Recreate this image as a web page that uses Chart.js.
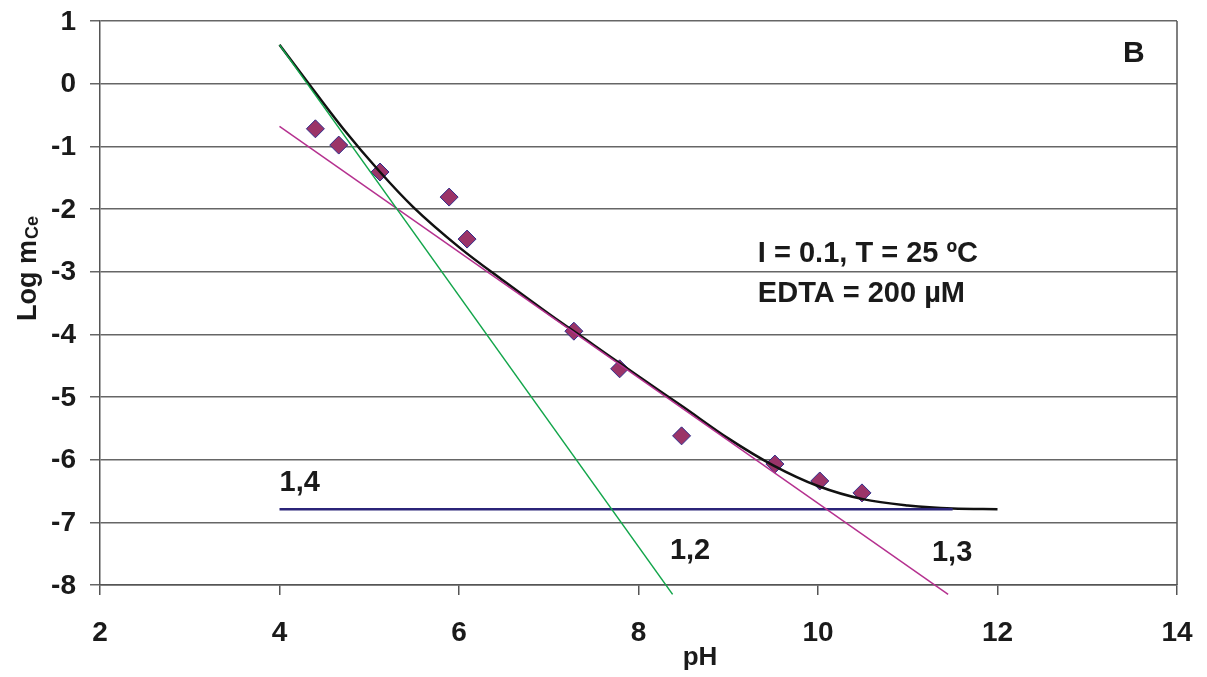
<!DOCTYPE html>
<html>
<head>
<meta charset="utf-8">
<script src="https://cdn.jsdelivr.net/npm/chart.js@4/dist/chart.umd.min.js"></script>
<style>
  html, body { margin: 0; padding: 0; background: #fff; }
  #wrap { width: 1207px; height: 677px; }
</style>
</head>
<body>
<div id="wrap"><canvas id="chart" width="1207" height="677"></canvas></div>
<script>
// measured points (pH, log m_Ce)
const measPH = [4.40, 4.66, 5.12, 5.89, 6.09, 7.28, 7.79, 8.48, 9.52, 10.02, 10.49];
const measLog = [-0.72, -0.98, -1.41, -1.81, -2.48, -3.95, -4.55, -5.62, -6.07, -6.34, -6.53];

// model curve
const fitPH = [4.0, 4.32, 4.71, 5.12, 5.49, 6.01, 6.5, 7.0, 7.5, 8.0, 8.5, 9.0, 9.5, 10.0, 10.5, 11.0, 11.5, 12.0];
const fitLog = [0.62, 0.01, -0.72, -1.41, -1.97, -2.62, -3.15, -3.67, -4.17, -4.67, -5.16, -5.66, -6.09, -6.42, -6.63, -6.73, -6.78, -6.79];

// asymptotes 1,2 / 1,3 / 1,4
const line12PH = [4.0, 8.38];
const line12Log = [0.62, -8.15];
const line13PH = [4.0, 11.45];
const line13Log = [-0.68, -8.15];
const line14PH = [4.0, 11.5];
const line14Log = [-6.79, -6.79];

const xTicks = [2, 4, 6, 8, 10, 12, 14];
const yTicks = [1, 0, -1, -2, -3, -4, -5, -6, -7, -8];

const labels = [
  { text: "1,4", x: 4.0, y: -6.50 },
  { text: "1,2", x: 8.35, y: -7.58 },
  { text: "1,3", x: 11.27, y: -7.62 },
  { text: "I = 0.1, T = 25 ºC", x: 9.33, y: -2.85 },
  { text: "EDTA = 200 µM", x: 9.33, y: -3.48 },
];

const pts = (xs, ys) => xs.map((x, i) => ({ x, y: ys[i] }));
const FONT = '"Liberation Sans", Arial, sans-serif';
const INK = "#1a1a1a";

const textPlugin = {
  id: "texts",
  afterDraw(chart) {
    const { ctx, chartArea, scales } = chart;
    const xs = scales.x, ys = scales.y;
    ctx.save();
    // right border
    ctx.strokeStyle = "#555";
    ctx.lineWidth = 1.5;
    ctx.beginPath();
    ctx.moveTo(chartArea.right, chartArea.top);
    ctx.lineTo(chartArea.right, chartArea.bottom);
    ctx.stroke();

    ctx.fillStyle = INK;

    // tick labels
    ctx.font = "bold 28px " + FONT;
    ctx.textBaseline = "middle";
    ctx.textAlign = "right";
    yTicks.forEach((v) => ctx.fillText(String(v), 76, ys.getPixelForValue(v) + 1));
    ctx.textAlign = "center";
    xTicks.forEach((v) => ctx.fillText(String(v), xs.getPixelForValue(v), 633));

    ctx.textBaseline = "alphabetic";
    ctx.font = "bold 29px " + FONT;
    ctx.textAlign = "left";
    labels.forEach((l) => {
      ctx.fillText(l.text, xs.getPixelForValue(l.x), ys.getPixelForValue(l.y));
    });

    ctx.font = "bold 30px " + FONT;
    ctx.textAlign = "center";
    ctx.fillText("B", xs.getPixelForValue(13.52), ys.getPixelForValue(0.35));

    // x title
    ctx.font = "bold 26px " + FONT;
    ctx.fillText("pH", 700, 665);

    // y title with subscript
    ctx.translate(36, 269);
    ctx.rotate(-Math.PI / 2);
    const main = "Log m";
    ctx.font = "bold 27px " + FONT;
    const wMain = ctx.measureText(main).width;
    ctx.font = "bold 18px " + FONT;
    const wSub = ctx.measureText("Ce").width;
    const start = -(wMain + wSub) / 2;
    ctx.textAlign = "left";
    ctx.font = "bold 27px " + FONT;
    ctx.fillText(main, start, 0);
    ctx.font = "bold 18px " + FONT;
    ctx.fillText("Ce", start + wMain + 1, 2);
    ctx.restore();
  },
};

new Chart(document.getElementById("chart"), {
  type: "scatter",
  data: {
    datasets: [
      {
        label: "1,2",
        data: pts(line12PH, line12Log),
        showLine: true,
        borderColor: "#12a54a",
        borderWidth: 1.5,
        pointRadius: 0,
        clip: { left: 0, top: 0, right: 0, bottom: 12 },
      },
      {
        label: "1,3",
        data: pts(line13PH, line13Log),
        showLine: true,
        borderColor: "#b5318f",
        borderWidth: 1.5,
        pointRadius: 0,
        clip: { left: 0, top: 0, right: 0, bottom: 12 },
      },
      {
        label: "1,4",
        data: pts(line14PH, line14Log),
        showLine: true,
        borderColor: "#2b2478",
        borderWidth: 2.5,
        pointRadius: 0,
      },
      {
        label: "model",
        data: pts(fitPH, fitLog),
        showLine: true,
        borderColor: "#111",
        borderWidth: 2.5,
        pointRadius: 0,
        cubicInterpolationMode: "monotone",
      },
      {
        label: "measured",
        data: pts(measPH, measLog),
        pointStyle: "rectRot",
        pointRadius: 9,
        pointBackgroundColor: "#9b3468",
        pointBorderColor: "#2f2c8a",
        pointBorderWidth: 1,
      },
    ],
  },
  options: {
    responsive: false,
    animation: false,
    layout: { padding: { top: 21, right: 30, left: 0, bottom: 0 } },
    plugins: { legend: { display: false }, tooltip: { enabled: false } },
    scales: {
      x: {
        type: "linear",
        min: 2,
        max: 14,
        afterBuildTicks: (s) => { s.ticks = xTicks.map((v) => ({ value: v })); },
        afterFit: (s) => { s.height = 92; },
        border: { display: true, color: "#555", width: 1.5 },
        grid: { drawOnChartArea: false, drawTicks: true, tickLength: 10, color: "#555", lineWidth: 1.5 },
        ticks: { display: false },
      },
      y: {
        type: "linear",
        min: -8,
        max: 1,
        afterBuildTicks: (s) => { s.ticks = yTicks.map((v) => ({ value: v })); },
        afterFit: (s) => { s.width = 100; },
        border: { display: true, color: "#555", width: 1.5 },
        grid: { drawTicks: true, tickLength: 10, color: "#666", lineWidth: 1.5 },
        ticks: { display: false },
      },
    },
  },
  plugins: [textPlugin],
});
</script>
</body>
</html>
